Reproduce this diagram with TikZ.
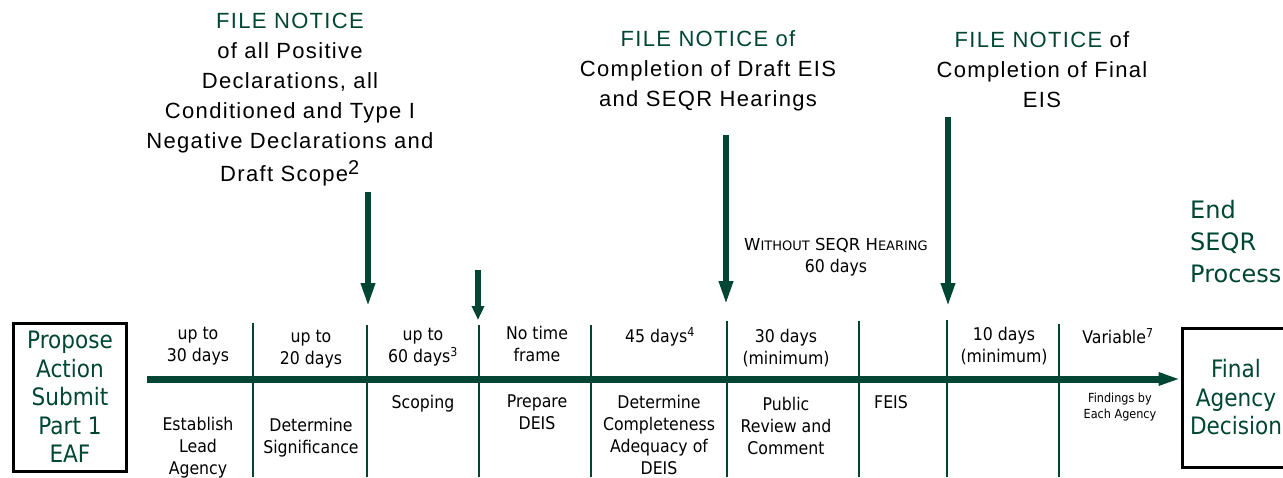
\documentclass[tikz,border=0pt]{standalone}
\usepackage{fontspec}
\setmainfont{Liberation Sans}[LetterSpace=6]
\newfontfamily\labelfont{DejaVu Sans Condensed}
\newfontfamily\widefont{DejaVu Sans}
\usetikzlibrary{arrows.meta,positioning}
\definecolor{seqrgreen}{RGB}{0,70,50}

\begin{document}
\begin{tikzpicture}[x=1pt, y=-1pt,
      notice/.style = {align=center, inner sep=0pt, anchor=north,
        font=\fontsize{22}{30}\selectfont},
      period/.style = {align=center, inner sep=0pt, anchor=north,
        font=\labelfont\fontsize{17.5}{22}\selectfont},
      task/.style = {period},
      tinytask/.style = {period, font=\labelfont\fontsize{12.5}{16}\selectfont},
      endbox/.style = {draw=black, line width=3pt, align=center, inner sep=0pt,
        text=seqrgreen, font=\labelfont\fontsize{24}{28.5}\selectfont},
      divider/.style = {draw=seqrgreen, line width=2pt},
      notearrow/.style = {draw=seqrgreen, fill=seqrgreen, line width=6pt,
        -{Triangle[width=13pt,length=24pt]}},
      timeline/.style = {draw=seqrgreen, fill=seqrgreen, line width=7pt,
        -{Triangle[width=12pt,length=22pt]}}]
  \clip (0,0) rectangle (1283,477);

  \node[endbox, minimum width=113pt, minimum height=148pt] (propose) at (70,397)
    {Propose\\Action\\Submit\\Part 1\\EAF};
  \node[endbox, minimum width=108pt, minimum height=139pt] (final) at (1236,397.5)
    {Final\\Agency\\Decision};
  \node[anchor=north west, inner sep=0pt, align=left, text=seqrgreen,
    font=\widefont\fontsize{24}{32}\selectfont] (endseqr) at (1190,200)
    {End\\SEQR\\Process};

  \coordinate (tl) at (147,379);
  \draw[timeline] (tl) -- (final.west |- tl);

  \foreach \x/\y in {253/323, 367/325, 479/325, 591/325, 727/321, 859/321, 947/320, 1059/324}
    \draw[divider] (\x,\y) -- (\x,477);

  \node[period] (p1) at (198,327) {up to\\30 days};
  \node[period] (p2) at (311,330) {up to\\20 days};
  \node[period] (p3) at (423,328) {up to\\60 days\textsuperscript{3}};
  \node[period] (p4) at (537,326) {No time\\frame};
  \node[period] (p5) at (660,327) {45 days\textsuperscript{4}};
  \node[period] (p6) at (786,329) {30 days\\(minimum)};
  \node[period] (p8) at (1004,327) {10 days\\(minimum)};
  \node[period] (p9) at (1118,328) {Variable\textsuperscript{7}};

  \node[task] (t1) at (198,417) {Establish\\Lead\\Agency};
  \node[task] (t2) at (311,418) {Determine\\Significance};
  \node[task] (t3) at (423,395) {Scoping};
  \node[task] (t4) at (537,395) {Prepare\\DEIS};
  \node[task] (t5) at (659,395) {Determine\\Completeness\\Adequacy of\\DEIS};
  \node[task] (t6) at (786,397) {Public\\Review and\\Comment};
  \node[task] (t7) at (891,395) {FEIS};
  \node[tinytask] (t9) at (1120,393) {Findings by\\Each Agency};

  \node[notice] (fn1) at (290,13)
    {\textcolor{seqrgreen}{FILE NOTICE}\\of all Positive\\Declarations, all\\
     Conditioned and Type I\\Negative Declarations and\\[3pt]
     Draft Scope\textsuperscript{\fontsize{20}{20}\selectfont 2}};
  \node[notice] (fn2) at (708,30)
    {\textcolor{seqrgreen}{FILE NOTICE of}\\Completion of Draft EIS\\and SEQR Hearings};
  \node[notice] (fn3) at (1042,31)
    {\textcolor{seqrgreen}{FILE NOTICE} of\\Completion of Final\\EIS};
  \node[period, font=\widefont\fontsize{16.5}{22}\selectfont] (nohear) at (836,238)
    {W{\fontsize{13}{22}\selectfont ITHOUT} SEQR H{\fontsize{13}{22}\selectfont EARING}\\
     {\labelfont\fontsize{17.5}{22}\selectfont 60 days}};

  \coordinate (a1top) at (368,192);
  \coordinate (a1tip) at (368,307);
  \coordinate (a2top) at (478,270);
  \coordinate (a2tip) at (478,320);
  \coordinate (a3top) at (726,135);
  \coordinate (a3tip) at (726,305);
  \coordinate (a4top) at (948,117);
  \coordinate (a4tip) at (948,307);
  \draw[notearrow] (a1top) -- (a1tip);
  \draw[notearrow, -{Triangle[width=12pt,length=14pt]}] (a2top) -- (a2tip);
  \draw[notearrow] (a3top) -- (a3tip);
  \draw[notearrow] (a4top) -- (a4tip);
\end{tikzpicture}
\end{document}
